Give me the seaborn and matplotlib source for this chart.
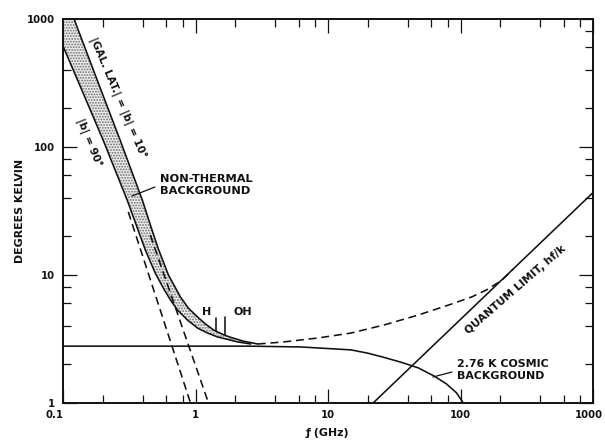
import matplotlib
matplotlib.use("Agg")
import matplotlib.pyplot as plt
import matplotlib.transforms as mtransforms
from matplotlib.ticker import FixedLocator, NullFormatter
import pandas as pd
import seaborn as sns

# ---- data: frequency in GHz, brightness temperature in K ----
# galactic non-thermal background plus cosmic background, |b| = 10 deg
gal10_f = [0.1212, 0.181, 0.270, 0.397, 0.460, 0.524, 0.625, 0.770, 0.885,
           1.036, 1.19, 1.37, 1.60, 1.84, 2.31, 2.95]
gal10_T = [1000, 334, 113, 38.5, 24.0, 16.0, 10.0, 6.73, 5.50,
           4.70, 4.14, 3.72, 3.44, 3.26, 3.04, 2.89]

# same, |b| = 90 deg
gal90_f = [0.100, 0.1418, 0.201, 0.305, 0.418, 0.498, 0.572, 0.647, 0.731,
           0.869, 1.036, 1.233, 1.47, 2.08, 2.61]
gal90_T = [615, 264, 113, 38.5, 15.7, 10.3, 7.9, 6.38, 5.33,
           4.45, 3.85, 3.52, 3.28, 3.00, 2.89]

# galactic power laws alone (without the cosmic background)
pow90_f = [0.311, 0.917]
pow90_T = [31.1, 1.0]
pow10_f = [0.456, 1.254]
pow10_T = [20.5, 1.0]

# 2.76 K cosmic background
cmb_f = [0.1, 1.0, 2.61, 6.24, 14.9, 20.0, 26.5, 35.7, 48.1, 63.5, 78.3,
         93.3, 105]
cmb_T = [2.78, 2.78, 2.78, 2.74, 2.60, 2.45, 2.27, 2.08, 1.88, 1.62, 1.41,
         1.20, 1.0]

# quantum limit hf/k
quant_f = [21.9, 1000]
quant_T = [1.0, 44]

# cosmic background plus quantum limit
total_f = [2.95, 4.64, 8.4, 14.9, 26.5, 48.1, 85.5, 121, 157, 205, 250]
total_T = [2.89, 3.0, 3.22, 3.52, 4.07, 4.87, 5.93, 6.73, 7.64, 9.1, 11.1]

# H and OH line markers
h_f = [1.42, 1.42]
h_T = [3.68, 4.6]
oh_f = [1.67, 1.67]
oh_T = [3.42, 4.7]

x_major = [0.1, 1, 10, 100, 1000]
x_major_labels = ["0.1", "1", "10", "100", "1000"]
y_major = [1, 10, 100, 1000]
y_major_labels = ["1", "10", "100", "1000"]

# ---- style ----
sns.set_theme(style="ticks")
plt.rcParams["font.family"] = ["DejaVu Sans"]
plt.rcParams["font.weight"] = "bold"
plt.rcParams["hatch.linewidth"] = 0.9

W, H = 605, 446
fig = plt.figure(figsize=(W / 100, H / 100), dpi=100)
L, R, B, T = 63, 593, 403, 19
ax = fig.add_axes([L / W, 1 - B / H, (R - L) / W, (B - T) / H])
ax.set_xscale("log")
ax.set_yscale("log")
ax.set_xlim(0.1, 1000)
ax.set_ylim(1, 1000)


def px(x, y):
    """pixel position -> axes fraction"""
    return (x - L) / (R - L), (B - y) / (B - T)


ink = "#111111"
lw = 1.15
dash = (0, (5, 3))

# stippled band between the two galactic-latitude curves
band_f = gal10_f + gal90_f[::-1] + [0.1]
band_T = gal10_T + gal90_T[::-1] + [1000]
ax.fill(band_f, band_T, facecolor="#ececec", edgecolor="#6e6e6e",
        hatch="......", linewidth=0, zorder=1)


def draw(fs, ts, **kw):
    df = pd.DataFrame({"f": fs, "T": ts})
    sns.lineplot(data=df, x="f", y="T", ax=ax, color=ink, linewidth=lw,
                 estimator=None, sort=False, zorder=3, **kw)


draw(gal10_f, gal10_T)
draw(gal90_f, gal90_T)
draw(pow90_f, pow90_T, linestyle=dash)
draw(pow10_f, pow10_T, linestyle=dash)
draw(cmb_f, cmb_T)
draw(quant_f, quant_T)
draw(total_f, total_T, linestyle=dash)
draw(h_f, h_T)
draw(oh_f, oh_T)

# ---- axes & ticks ----
for s in ax.spines.values():
    s.set_linewidth(1.4)
    s.set_color(ink)
    s.set_visible(True)

ax.xaxis.set_major_locator(FixedLocator(x_major))
ax.set_xticklabels(x_major_labels)
ax.yaxis.set_major_locator(FixedLocator(y_major))
ax.set_yticklabels(y_major_labels)
minor_x = [m * d for d in [0.1, 1, 10, 100] for m in (2, 4, 6, 8)]
minor_y = [m * d for d in [1, 10, 100] for m in (2, 4, 6, 8)]
ax.xaxis.set_minor_locator(FixedLocator(minor_x))
ax.yaxis.set_minor_locator(FixedLocator(minor_y))
ax.xaxis.set_minor_formatter(NullFormatter())
ax.yaxis.set_minor_formatter(NullFormatter())
ax.tick_params(which="both", direction="in", top=True, right=True,
               color=ink, width=0.9, labelsize=7.3, labelcolor=ink)
ax.tick_params(which="major", length=10)
ax.tick_params(which="minor", length=6)
ax.tick_params(axis="x", pad=5)
ax.tick_params(axis="y", pad=6)
xlabels = ax.get_xticklabels()
xlabels[0].set_horizontalalignment("right")
# keep the last frequency label inside the figure edge
xlabels[-1].set_horizontalalignment("right")
xlabels[-1].set_transform(xlabels[-1].get_transform() +
                          mtransforms.ScaledTranslation(10 / 100, 0,
                                                        fig.dpi_scale_trans))
for lab in ax.get_xticklabels() + ax.get_yticklabels():
    lab.set_fontweight("bold")

ax.set_xlabel("")
ax.set_ylabel("")
fig.text(327 / W, 1 - 433 / H, "ƒ (GHz)", ha="center", va="center",
         fontsize=7.9, fontweight="bold", color=ink)
fig.text(20 / W, 1 - 211 / H, "DEGREES KELVIN", ha="center", va="center",
         rotation=90, fontsize=7.9, fontweight="bold", color=ink)

# ---- annotations ----
def note(x, y, s, fs=8.2, **kw):
    kw.setdefault("ha", "center")
    kw.setdefault("va", "center")
    ax.text(*px(x, y), s, transform=ax.transAxes, fontsize=fs,
            fontweight="bold", color=ink, zorder=4, **kw)


note(118, 98, "|GAL. LAT.| = |b| = 10°", fs=7.6, rotation=-67,
     rotation_mode="anchor")
note(89, 143, "|b| = 90°", fs=7.6, rotation=-68, rotation_mode="anchor")
note(160, 185, "NON-THERMAL\nBACKGROUND", ha="left", linespacing=1.25)
note(207, 312, "H", fs=8)
note(243, 312, "OH", fs=8)
note(516, 290, "QUANTUM LIMIT, hf/k", fs=7.8, rotation=41,
     rotation_mode="anchor")
note(457, 370, "2.76 K COSMIC\nBACKGROUND", fs=7.9, ha="left",
     linespacing=1.25)

for (x0, y0), (x1, y1) in [((155, 187), (132, 196)), ((452, 372), (433, 377))]:
    ax.plot([px(x0, y0)[0], px(x1, y1)[0]], [px(x0, y0)[1], px(x1, y1)[1]],
            transform=ax.transAxes, color=ink, linewidth=0.9, zorder=4)

fig.savefig("out.png", dpi=100)
